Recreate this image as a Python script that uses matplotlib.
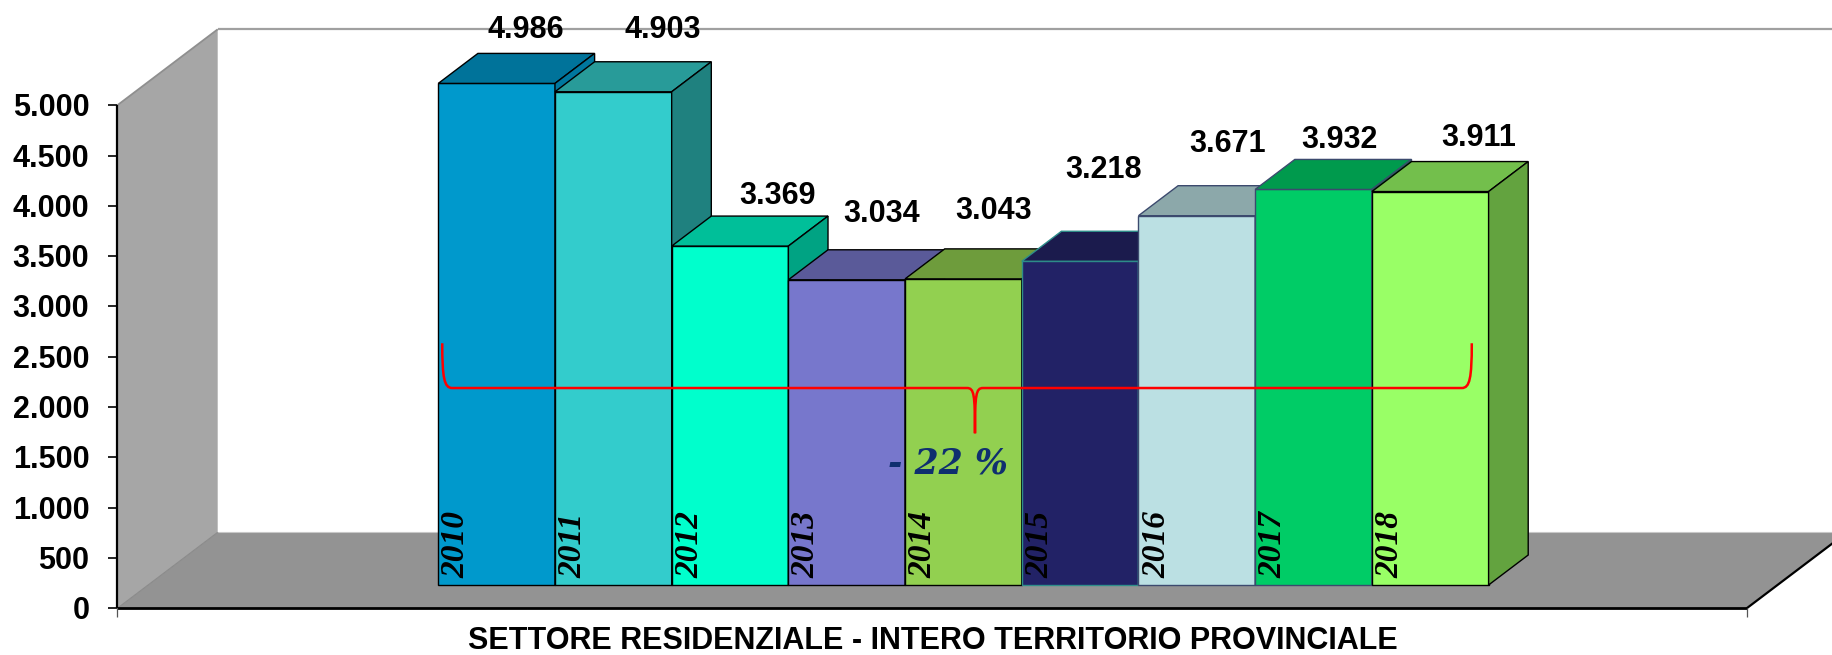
import matplotlib
matplotlib.use("Agg")
import matplotlib.pyplot as plt
from matplotlib.patches import Polygon, PathPatch
from matplotlib.path import Path

# ---------------- data ----------------
years = ["2010", "2011", "2012", "2013", "2014", "2015", "2016", "2017", "2018"]
consumption = [4986, 4903, 3369, 3034, 3043, 3218, 3671, 3932, 3911]
y_ticks = [0, 500, 1000, 1500, 2000, 2500, 3000, 3500, 4000, 4500, 5000]
title = "SETTORE RESIDENZIALE - INTERO TERRITORIO PROVINCIALE"
change_text = "- 22 %"

# ---------------- styling ----------------
front_colors = ["#0099CC", "#33CCCC", "#00FFCC", "#7777CC", "#92D050",
                "#222266", "#BBE0E3", "#00CC66", "#99FF66"]
top_colors = ["#00739A", "#289B99", "#00BF99", "#5A5A99", "#6E9C3C",
              "#1B1B4D", "#8CA8AA", "#009A4D", "#73BF4C"]
side_colors = ["#00779E", "#1F817F", "#00A383", "#4D4D85", "#5E8733",
               "#16163F", "#78909A", "#00843F", "#63A33F"]
edge_colors = ["#000000", "#000000", "#000000", "#000000", "#000000",
               "#2E8E8A", "#3C4A6E", "#3C4A6E", "#000000"]
# label offsets (pixels, y up) from the centre of each bar's top face
label_offsets = [(9.5, 41.7), (29.3, 50.1), (27.5, 37.8), (15.4, 54.1),
                 (10.3, 55.9), (4.0, 79.6), (11.3, 60.0), (6.6, 37.7),
                 (29.0, 41.6)]

W_PX, H_PX, DPI = 1833, 655, 100
SLOT_PX = 116.7          # width of one category slot
VAL_PX = 0.1006          # pixels per unit of value
X0_PX = 407.5            # pixel column of slot 0 on the front plane
ZERO_PX = 608.3          # pixel row of value 0 on the front plane
DEPTH_DX = 100.4 / SLOT_PX   # full depth shift, in slots
DEPTH_DV = 76.0 / VAL_PX     # full depth shift, in value units
BAR_D0, BAR_D1 = 0.3066, 0.7013
AXIS_X = (117.3 - X0_PX) / SLOT_PX
FLOOR_X = (1746.7 - X0_PX) / SLOT_PX
V_MAX = 5000

SANS = "Liberation Sans"


def proj(x, v, d):
    """Oblique projection of (category x, value v, depth d) onto the plot plane."""
    return (x + d * DEPTH_DX, v + d * DEPTH_DV)


def it_format(v):
    return f"{v:,}".replace(",", ".")


fig = plt.figure(figsize=(W_PX / DPI, H_PX / DPI), dpi=DPI)
fig.patch.set_facecolor("white")
ax = fig.add_axes([0, 0, 1, 1])
ax.set_xlim(-X0_PX / SLOT_PX, (W_PX - X0_PX) / SLOT_PX)
ax.set_ylim((ZERO_PX - H_PX) / VAL_PX, ZERO_PX / VAL_PX)
ax.axis("off")

# ---- walls and floor ----
left_wall = [proj(AXIS_X, 0, 0), proj(AXIS_X, V_MAX, 0),
             proj(AXIS_X, V_MAX, 1), proj(AXIS_X, 0, 1)]
ax.add_patch(Polygon(left_wall, closed=True, facecolor="#A6A6A6",
                     edgecolor="none", zorder=1))
back_wall = [proj(AXIS_X, 0, 1), proj(AXIS_X, V_MAX, 1),
             proj(FLOOR_X, V_MAX, 1), proj(FLOOR_X, 0, 1)]
ax.add_patch(Polygon(back_wall, closed=True, facecolor="white",
                     edgecolor="none", zorder=1))
floor = [proj(AXIS_X, 0, 0), proj(FLOOR_X, 0, 0),
         proj(FLOOR_X, 0, 1), proj(AXIS_X, 0, 1)]
ax.add_patch(Polygon(floor, closed=True, facecolor="#939393",
                     edgecolor="none", zorder=1))


def seg(p, q, **kw):
    ax.plot([p[0], q[0]], [p[1], q[1]], solid_capstyle="butt", **kw)


# wall outlines
seg(proj(AXIS_X, V_MAX, 0), proj(AXIS_X, V_MAX, 1), color="#8F8F8F", lw=1.3, zorder=2)
seg(proj(AXIS_X, V_MAX, 1), proj(FLOOR_X, V_MAX, 1), color="#A0A0A0", lw=1.6, zorder=2)
seg(proj(AXIS_X, 0, 0), proj(AXIS_X, 0, 1), color="#8A8A8A", lw=0.8, zorder=2)
seg(proj(AXIS_X, 0, 1), proj(FLOOR_X, 0, 1), color="#C8C8C8", lw=0.8, zorder=2)
# floor front and right edges
seg(proj(AXIS_X, 0, 0), proj(FLOOR_X, 0, 0), color="black", lw=2.0, zorder=6)
seg(proj(FLOOR_X, 0, 0), proj(FLOOR_X, 0, 1), color="black", lw=1.6, zorder=6)

# ---- value axis ----
seg(proj(AXIS_X, 0, 0), proj(AXIS_X, V_MAX, 0), color="black", lw=1.6, zorder=6)
tick_len = 9 / SLOT_PX
for t in y_ticks:
    seg((AXIS_X - tick_len, t), (AXIS_X, t), color="black", lw=1.2, zorder=6)
    ax.annotate(it_format(t), xy=(AXIS_X, t), xytext=(-28, -11),
                textcoords="offset pixels", ha="right", va="baseline",
                fontfamily=SANS, fontweight="bold", fontsize=22, zorder=6)
# category axis end ticks
drop = 9 / VAL_PX
for xe in (AXIS_X, FLOOR_X):
    seg((xe, 0), (xe, -drop), color="#555555", lw=0.9, zorder=6)

# ---- bars ----
for i, (v, yr) in enumerate(zip(consumption, years)):
    front = [proj(i, 0, BAR_D0), proj(i + 1, 0, BAR_D0),
             proj(i + 1, v, BAR_D0), proj(i, v, BAR_D0)]
    top = [proj(i, v, BAR_D0), proj(i + 1, v, BAR_D0),
           proj(i + 1, v, BAR_D1), proj(i, v, BAR_D1)]
    side = [proj(i + 1, 0, BAR_D0), proj(i + 1, 0, BAR_D1),
            proj(i + 1, v, BAR_D1), proj(i + 1, v, BAR_D0)]
    z = 3 + i * 0.01
    for pts, col in ((front, front_colors[i]), (top, top_colors[i]),
                     (side, side_colors[i])):
        ax.add_patch(Polygon(pts, closed=True, facecolor=col,
                             edgecolor=edge_colors[i], lw=1.0,
                             joinstyle="miter", zorder=z))
    # year written up the left side of the front face
    ax.annotate(yr, xy=proj(i, 0, BAR_D0), xytext=(26.5, 7),
                textcoords="offset pixels", rotation=90,
                rotation_mode="anchor", ha="left", va="baseline",
                fontfamily="Liberation Serif", fontweight="bold",
                fontstyle="italic", fontsize=24, color="black", zorder=5)
    # value label above the bar
    dx, dy = label_offsets[i]
    ax.annotate(it_format(v), xy=proj(i + 0.5, v, (BAR_D0 + BAR_D1) / 2),
                xytext=(dx, dy - 11), textcoords="offset pixels",
                ha="center", va="baseline", fontfamily=SANS,
                fontweight="bold", fontsize=22, zorder=7)

# ---- brace spanning 2010 -> 2018 with the overall change ----
bx_l, bx_c, bx_r = 0.034, 4.599, 8.856
bv_top, bv_line, bv_tip = 2403, 1958, 1508
cx = 10 / SLOT_PX
cv = 10 / VAL_PX
raw = [
    ((bx_l, bv_top), Path.MOVETO),
    ((bx_l, bv_line + cv), Path.CURVE4),
    ((bx_l + 0.2 * cx, bv_line), Path.CURVE4),
    ((bx_l + cx, bv_line), Path.CURVE4),
    ((bx_c - 0.8 * cx, bv_line), Path.LINETO),
    ((bx_c - 0.1 * cx, bv_line), Path.CURVE4),
    ((bx_c, bv_line - 0.6 * cv), Path.CURVE4),
    ((bx_c, bv_tip), Path.CURVE4),
    ((bx_c, bv_line - 0.6 * cv), Path.CURVE4),
    ((bx_c + 0.1 * cx, bv_line), Path.CURVE4),
    ((bx_c + 0.8 * cx, bv_line), Path.CURVE4),
    ((bx_r - cx, bv_line), Path.LINETO),
    ((bx_r - 0.2 * cx, bv_line), Path.CURVE4),
    ((bx_r, bv_line + cv), Path.CURVE4),
    ((bx_r, bv_top), Path.CURVE4),
]
verts = [proj(x, v, BAR_D0) for (x, v), _ in raw]
codes = [c for _, c in raw]
ax.add_patch(PathPatch(Path(verts, codes), facecolor="none",
                       edgecolor="#FF0000", lw=1.8, zorder=8))
ax.text(*proj(3.853, 1113, BAR_D0), change_text, ha="left", va="baseline",
        fontfamily="DejaVu Serif", fontweight="bold", fontstyle="italic",
        fontsize=25, color="#0F2F6F", zorder=8)

# ---- title under the floor ----
ax.text(4.5, -404, title, ha="center", va="baseline", fontfamily=SANS,
        fontweight="bold", fontsize=22, zorder=8)

fig.savefig("out.png", dpi=DPI, facecolor="white")
